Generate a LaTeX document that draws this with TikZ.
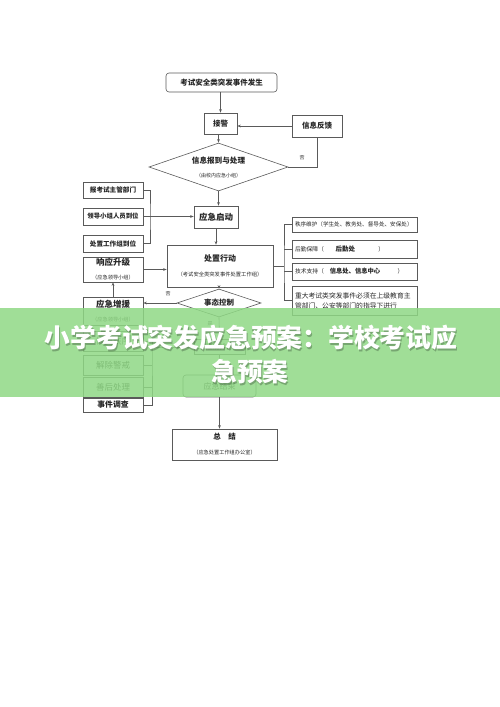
\documentclass[tikz,border=0pt]{standalone}
\usepackage{fontspec}
\setmainfont{Noto Sans CJK SC}
\usepackage{tikz}
\usetikzlibrary{arrows.meta,shapes.geometric}
\definecolor{linegray}{HTML}{5A5A5A}
\definecolor{textgray}{HTML}{262626}
\definecolor{bannergreen}{HTML}{8FD885}
\newcommand\pxfont[1]{\fontsize{#1}{#1}\selectfont}

\begin{document}
\begin{tikzpicture}[x=1pt,y=-1pt,>={Stealth[length=3.5pt,width=2.6pt]},
  box/.style={draw=linegray,line width=0.6pt,fill=white,inner sep=1pt,align=center,text=textgray},
  rbox/.style={box,rounded corners=3pt},
  dia/.style={box,diamond,inner sep=0pt},
  sidebox/.style={box,minimum width=60pt,text width=58pt},
  listbox/.style={box,minimum width=125pt,text width=119pt,align=left},
  line/.style={draw=linegray,line width=0.6pt},
  note/.style={text=textgray,font=\pxfont{5}}]
  \useasboundingbox (0,0) rectangle (500,707);

  \node[rbox,minimum width=111pt,minimum height=19pt,font=\pxfont{7.5}\bfseries] (start) at (221.5,82.5) {考试安全类突发事件发生};
  \node[box,minimum width=33pt,minimum height=21pt,font=\pxfont{7.5}\bfseries] (jiejing) at (220.5,123.5) {接警};
  \node[box,minimum width=50pt,minimum height=22pt,font=\pxfont{7.5}\bfseries] (fankui) at (317,126) {信息反馈};
  \node[dia,aspect=2.9,minimum width=139pt,minimum height=48pt] (info) at (218.5,167)
    {{\pxfont{7.6}\bfseries 信息报到与处理}\\[2pt]{\pxfont{5}（由校内应急小组）}};
  \node[box,minimum width=44pt,minimum height=22pt,font=\pxfont{8.5}\bfseries] (yingji) at (216,217) {应急启动};

  \node[sidebox,minimum height=16pt,font=\pxfont{6.6}\bfseries] (baokao) at (113,190) {报考试主管部门};
  \node[sidebox,minimum height=17pt,font=\pxfont{6.4}\bfseries] (lingdao) at (113,216.5) {领导小组人员到位};
  \node[sidebox,minimum height=17pt,font=\pxfont{6.6}\bfseries] (gongzuozu) at (113,243.5) {处置工作组到位};

  \node[box,minimum width=106pt,minimum height=42pt] (chuzhi) at (220,266)
    {{\pxfont{8}\bfseries 处置行动}\\[3pt]{\pxfont{5.3}（考试安全类突发事件处置工作组）}};

  \node[listbox,minimum height=15pt,font=\pxfont{5.6}] (zhixu) at (354.5,224.5) {秩序维护（学生处、教务处、督导处、安保处）};
  \node[listbox,minimum height=18pt,font=\pxfont{5.8}] (houqin) at (354.5,249) {后勤保障（\qquad{\bfseries\pxfont{6.5}后勤处}\qquad\qquad）};
  \node[listbox,minimum height=17pt,font=\pxfont{5.8}] (jishu) at (354.5,271.5) {技术支持（\quad{\bfseries\pxfont{6.3}信息处、信息中心}\qquad\quad）};
  \node[listbox,minimum height=29pt,font=\pxfont{6.8}] (zhongda) at (354.5,300.5)
    {重大考试类突发事件必须在上级教育主\\[3pt]管部门、公安等部门的指导下进行};

  \node[sidebox,minimum height=25pt] (shengji) at (113,269.5)
    {{\pxfont{8.5}\bfseries 响应升级}\\[2pt]{\pxfont{5.2}（应急领导小组）}};
  \node[sidebox,minimum height=28pt] (zengyuan) at (113,311)
    {{\pxfont{8.5}\bfseries 应急增援}\\[2pt]{\pxfont{5.2}（应急领导小组）}};
  \node[dia,aspect=3,minimum width=84pt,minimum height=28pt,font=\pxfont{7.5}\bfseries] (kongzhi) at (219,303) {事态控制};

  \node[box,minimum width=51pt,minimum height=15pt,font=\pxfont{7}] (paichu) at (219.5,347) {险情排除};
  \node[sidebox,minimum height=20pt,font=\pxfont{8.5}] (huifu) at (113,341.5) {恢复秩序};
  \node[sidebox,minimum height=20pt,font=\pxfont{8.5}] (jiechu) at (113,365) {解除警戒};
  \node[sidebox,minimum height=20pt,font=\pxfont{8.5}] (shanhou) at (113,387) {善后处理};
  \node[sidebox,minimum height=14pt,line width=1pt,font=\pxfont{7.8}\bfseries] (diaocha) at (113,405) {事件调查};
  \node[rbox,minimum width=73pt,minimum height=22pt,font=\pxfont{8}] (jieshu) at (219.5,386) {应急结束};
  \node[box,minimum width=105pt,minimum height=31pt] (zongjie) at (224.5,444.5)
    {{\pxfont{7.5}\bfseries 总\quad 结}\\[3pt]{\pxfont{5.2}（应急处置工作组办公室）}};

  \coordinate (lbr) at (150,216.5);
  \coordinate (rbr) at (284,266);
  \coordinate (lbrb) at (152,347);

  \draw[line,->] (start.south -| jiejing.north) -- (jiejing.north);
  \draw[line,->] (fankui.west) -- (fankui.west -| jiejing.east);
  \draw[line,->] (jiejing.south -| info.north) -- (info.north);
  \draw[line] (fankui.south) -- (fankui.south |- info.east) -- (info.east);
  \node[note] (fou1) at (302,158) {否};
  \draw[line,->] (info.south) -- (info.south |- yingji.north);
  \draw[line] (baokao.east) -| (lbr) |- (gongzuozu.east);
  \draw[line,->] (lingdao.east) -- (lingdao.east -| yingji.west);
  \draw[line,->] (yingji.south) -- (yingji.south |- chuzhi.north);
  \draw[line] (chuzhi.east) -- (rbr);
  \draw[line] (zhixu.west) -| (rbr) |- (zhongda.west);
  \draw[line] (houqin.west) -- (houqin.west -| rbr);
  \draw[line] (jishu.west) -- (jishu.west -| rbr);
  \draw[line,->] (shengji.east) -- (shengji.east -| chuzhi.west);
  \draw[line,->] (zengyuan.north) -- (shengji.south);
  \draw[line,->] (chuzhi.south -| kongzhi.north) -- (kongzhi.north);
  \draw[line,->] (kongzhi.west) -- (kongzhi.west -| zengyuan.east);
  \node[note] (fou2) at (168,294) {否};
  \draw[line,->] (kongzhi.south) -- (paichu.north);
  \node[note] (shi) at (210,324) {是};
  \draw[line] (paichu.south) -- (paichu.south |- jieshu.north);
  \draw[line] (huifu.east) -| (lbrb) |- (diaocha.east);
  \draw[line] (jiechu.east) -- (jiechu.east -| lbrb);
  \draw[line] (shanhou.east) -- (shanhou.east -| lbrb);
  \draw[line] (paichu.west) -- (lbrb);
  \draw[line,->] (jieshu.south) -- (jieshu.south |- zongjie.north);

  \fill[bannergreen,opacity=0.85] (0,308) rectangle (500,397);
  \node[text=black,opacity=0.25,font=\pxfont{25.8}\bfseries] (titleshadow) at (252,339.5) {小学考试突发应急预案：学校考试应};
  \node[text=white,font=\pxfont{25.8}\bfseries] (title) at (251,338) {小学考试突发应急预案：学校考试应};
  \node[text=black,opacity=0.25,font=\pxfont{25.8}\bfseries] (titleshadowb) at (251,373.5) {急预案};
  \node[text=white,font=\pxfont{25.8}\bfseries] (titleb) at (250,372) {急预案};
\end{tikzpicture}
\end{document}
